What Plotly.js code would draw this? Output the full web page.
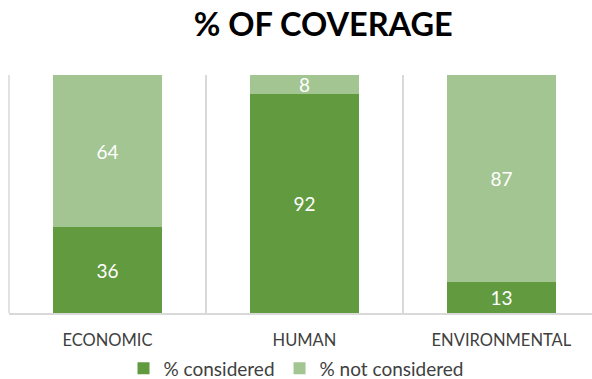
<!DOCTYPE html>
<html><head><meta charset="utf-8">
<script src="https://cdn.plot.ly/plotly-3.0.1.min.js"></script>
<style>html,body{margin:0;padding:0;background:#fff}#c{width:592px;height:379px}</style>
</head><body><div id="c"></div>
<script>
const categories = ["ECONOMIC", "HUMAN", "ENVIRONMENTAL"];
const considered = [36, 92, 13];
const notConsidered = [64, 8, 87];
const seriesNames = ["% considered", "% not considered"];
const colors = ["#629B3F", "#A2C592"];

const font = "Lato, 'Open Sans', sans-serif";
const traces = [considered, notConsidered].map((vals, i) => ({
  type: "bar", x: categories, y: vals, name: seriesNames[i],
  marker: {color: colors[i], line: {width: 0}},
  text: vals.map(String), textposition: "inside", insidetextanchor: "middle",
  textangle: 0, constraintext: "none", cliponaxis: false,
  textfont: {color: "#ffffff", size: 19, family: font},
  hoverinfo: "skip"
}));

const layout = {
  width: 592, height: 379,
  barmode: "stack", bargap: 0.445,
  margin: {l: 9, r: 0, t: 75, b: 66},
  paper_bgcolor: "#fff", plot_bgcolor: "#fff",
  title: {text: "<b>% OF COVERAGE</b>", x: 0.539, xanchor: "center", xref: "paper",
          y: 0.935, yanchor: "middle", yref: "container",
          font: {family: font, size: 32.5, color: "#000"}},
  xaxis: {type: "category", range: [-0.5, 2.46], tickson: "boundaries",
          showgrid: true, gridcolor: "#d9d9d9", gridwidth: 1.5,
          showline: true, linecolor: "#d9d9d9", linewidth: 1.5,
          ticks: "", ticklabelstandoff: 12,
          tickfont: {family: font, size: 16.5, color: "#404040"}, fixedrange: true},
  yaxis: {range: [0, 100], visible: false, showgrid: false, zeroline: false, fixedrange: true},
  showlegend: true,
  legend: {orientation: "h", x: 0.5, xanchor: "center", xref: "container",
           y: 0.028, yanchor: "middle", yref: "container", itemwidth: 30,
           font: {family: font, size: 19, color: "#404040"}, traceorder: "normal"},
  shapes: [{type: "line", xref: "paper", yref: "paper", x0: 0, x1: 0, y0: 0, y1: 1,
            line: {color: "#d9d9d9", width: 1.5}}]
};
Plotly.newPlot("c", traces, layout, {displayModeBar: false, staticPlot: true});
</script></body></html>
